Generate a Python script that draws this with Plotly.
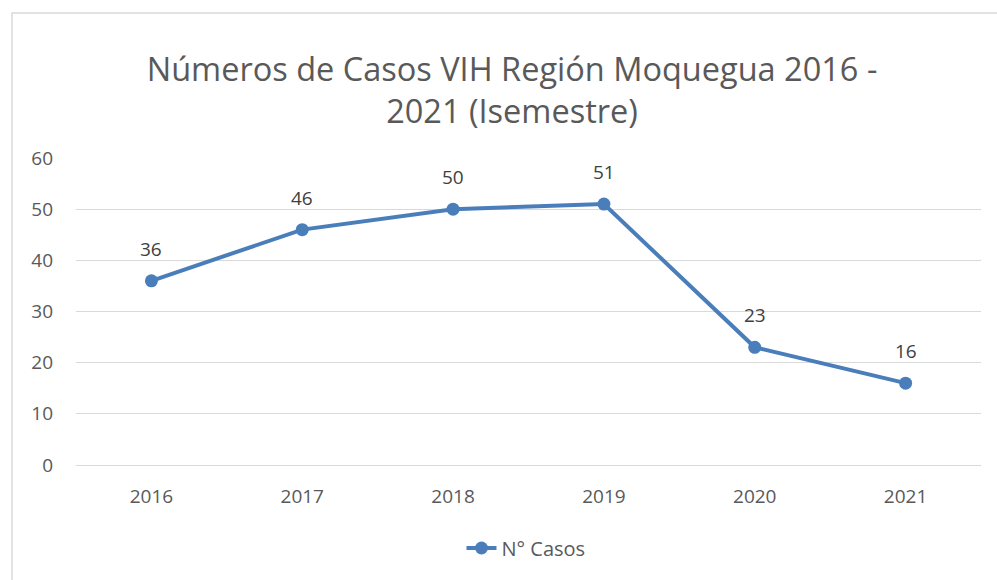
import plotly.graph_objects as go

years = ["2016", "2017", "2018", "2019", "2020", "2021"]
casos = [36, 46, 50, 51, 23, 16]
y_ticks = [0, 10, 20, 30, 40, 50, 60]

W, H = 997, 580
L, R, T, B = 76, 16, 158, 115
pw, ph = W - L - R, H - T - B

font_family = "Open Sans, Lato, sans-serif"
gray = "#595959"
blue = "#4A7EBB"

fig = go.Figure()
fig.add_trace(go.Scatter(
    x=years, y=casos, mode="lines+markers", name="N° Casos",
    line=dict(color=blue, width=4),
    marker=dict(color=blue, size=13),
))

for i, yv in enumerate(casos):
    fig.add_annotation(x=i, y=yv, text=str(yv), showarrow=False,
                       yshift=32, font=dict(size=19, color="#404040", family=font_family))

def px_x(p):
    return (p - L) / pw

def px_y(p):
    return (H - B - p) / ph

fig.add_shape(type="rect", xref="paper", yref="paper",
              x0=px_x(12), x1=px_x(1005), y0=px_y(588), y1=px_y(13),
              line=dict(color="#d9d9d9", width=1.5), layer="below")

fig.update_layout(
    width=W, height=H, autosize=False,
    margin=dict(l=L, r=R, t=T, b=B),
    paper_bgcolor="white", plot_bgcolor="white",
    font=dict(family=font_family, color=gray, size=19),
    title=dict(text="Números de Casos VIH Región Moquegua 2016 -<br>2021 (Isemestre)",
               x=512 / W, xanchor="center", y=1 - 81 / H, yanchor="middle",
               font=dict(size=32.5, color=gray, family=font_family)),
    xaxis=dict(type="category", showgrid=False, showline=False, zeroline=False, ticks="",
               range=[-0.5, 5.5], ticklabelstandoff=18, tickfont=dict(size=19, color=gray)),
    yaxis=dict(range=[0, 60], tickvals=y_ticks, showgrid=True, gridcolor="#d9d9d9",
               gridwidth=1, zeroline=True, zerolinecolor="#d9d9d9", zerolinewidth=1,
               showline=False, ticks="", ticklabelstandoff=22,
               tickfont=dict(size=19, color=gray)),
    showlegend=True,
    legend=dict(orientation="h", x=526 / W, xanchor="center", y=1 - 548 / H,
                yanchor="middle", xref="container", yref="container",
                font=dict(size=20, color=gray)),
)

fig.write_html("out.html", post_script="document.body.style.margin='0';",
               config={"displayModeBar": False})
